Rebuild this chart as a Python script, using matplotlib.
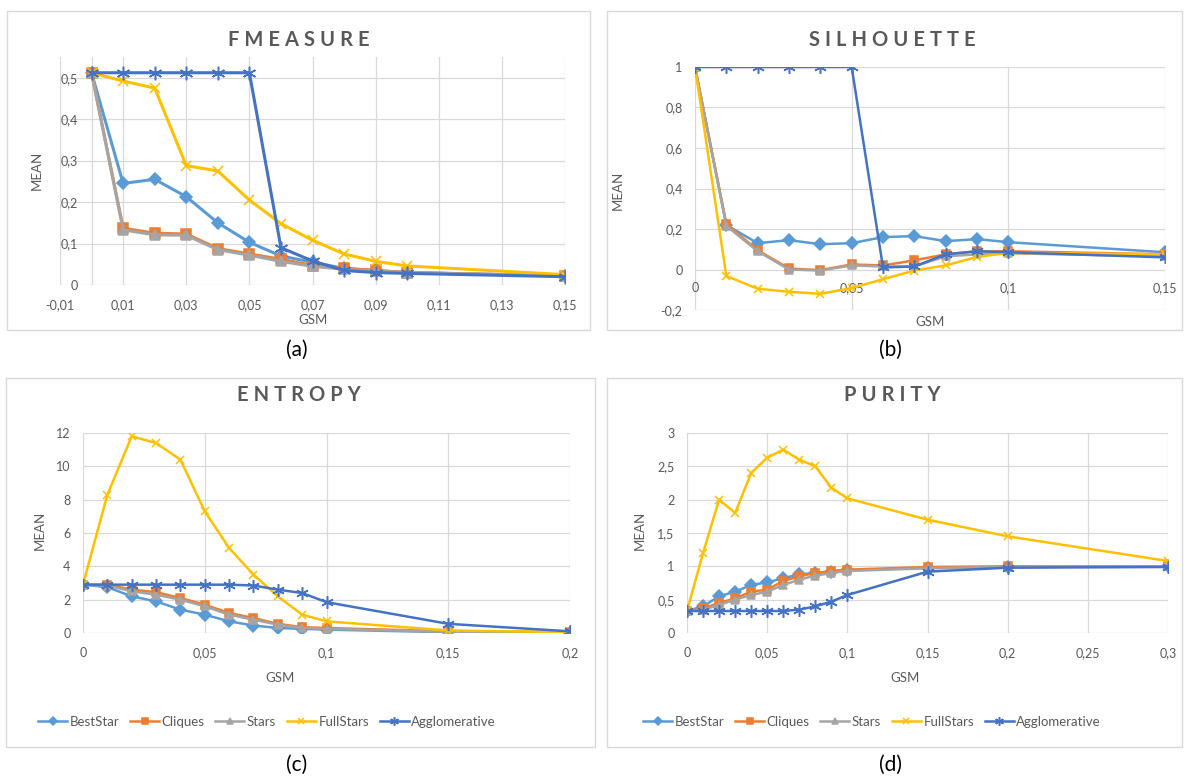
import matplotlib
matplotlib.use("Agg")
import matplotlib.pyplot as plt
from matplotlib.patches import Rectangle
from matplotlib.ticker import FuncFormatter, MultipleLocator

plt.rcParams['font.family'] = ['Lato', 'DejaVu Sans']

W, H = 1188, 778

# Series names and Excel-like colours
series = ["BestStar", "Cliques", "Stars", "FullStars", "Agglomerative"]
colors = ["#5B9BD5", "#ED7D31", "#A5A5A5", "#FFC000", "#4472C4"]
markers = ["D", "s", "^", "x", (6, 2, 0)]

# (a) FMEASURE
gsm_a = [0, 0.01, 0.02, 0.03, 0.04, 0.05, 0.06, 0.07, 0.08, 0.09, 0.1, 0.15]
fm_beststar = [0.512, 0.245, 0.255, 0.213, 0.15, 0.103, 0.07, 0.055, 0.04, 0.035, 0.03, 0.022]
fm_cliques = [0.512, 0.137, 0.125, 0.123, 0.088, 0.075, 0.062, 0.047, 0.04, 0.035, 0.03, 0.022]
fm_stars = [0.512, 0.133, 0.121, 0.12, 0.085, 0.072, 0.057, 0.045, 0.038, 0.033, 0.03, 0.022]
fm_fullstars = [0.512, 0.492, 0.475, 0.288, 0.275, 0.205, 0.148, 0.108, 0.075, 0.057, 0.046, 0.025]
fm_agglo = [0.512, 0.512, 0.512, 0.512, 0.512, 0.512, 0.09, 0.058, 0.035, 0.03, 0.028, 0.02]

# (b) SILHOUETTE
gsm_b = [0, 0.01, 0.02, 0.03, 0.04, 0.05, 0.06, 0.07, 0.08, 0.09, 0.1, 0.15]
si_beststar = [1.0, 0.22, 0.13, 0.145, 0.125, 0.13, 0.16, 0.165, 0.14, 0.15, 0.135, 0.085]
si_cliques = [1.0, 0.225, 0.095, 0.005, -0.003, 0.025, 0.02, 0.045, 0.075, 0.09, 0.09, 0.075]
si_stars = [1.0, 0.215, 0.09, 0.0, -0.005, 0.02, 0.015, 0.015, 0.065, 0.075, 0.08, 0.065]
si_fullstars = [1.0, -0.032, -0.095, -0.11, -0.12, -0.092, -0.048, -0.005, 0.02, 0.062, 0.082, 0.075]
si_agglo = [1.0, 1.0, 1.0, 1.0, 1.0, 1.0, 0.01, 0.015, 0.075, 0.09, 0.085, 0.06]

# (c) ENTROPY
gsm_c = [0, 0.01, 0.02, 0.03, 0.04, 0.05, 0.06, 0.07, 0.08, 0.09, 0.1, 0.15, 0.2]
en_beststar = [2.9, 2.75, 2.2, 1.9, 1.4, 1.1, 0.7, 0.45, 0.3, 0.25, 0.2, 0.05, 0.02]
en_cliques = [2.9, 2.9, 2.6, 2.45, 2.1, 1.7, 1.2, 0.9, 0.55, 0.35, 0.3, 0.1, 0.05]
en_stars = [2.9, 2.85, 2.5, 2.3, 2.0, 1.6, 1.1, 0.8, 0.5, 0.3, 0.25, 0.08, 0.03]
en_fullstars = [2.9, 8.3, 11.8, 11.4, 10.4, 7.3, 5.1, 3.5, 2.2, 1.1, 0.7, 0.15, 0.05]
en_agglo = [2.9, 2.9, 2.9, 2.9, 2.9, 2.9, 2.9, 2.85, 2.6, 2.4, 1.85, 0.55, 0.1]

# (d) PURITY
gsm_d = [0, 0.01, 0.02, 0.03, 0.04, 0.05, 0.06, 0.07, 0.08, 0.09, 0.1, 0.15, 0.2, 0.3]
pu_beststar = [0.33, 0.4, 0.55, 0.62, 0.72, 0.76, 0.82, 0.88, 0.9, 0.92, 0.94, 0.98, 0.99, 1.0]
pu_cliques = [0.33, 0.37, 0.45, 0.52, 0.62, 0.65, 0.78, 0.85, 0.9, 0.93, 0.95, 0.99, 1.0, 1.0]
pu_stars = [0.33, 0.35, 0.42, 0.5, 0.57, 0.62, 0.72, 0.8, 0.86, 0.9, 0.93, 0.97, 0.99, 1.0]
pu_fullstars = [0.33, 1.2, 2.0, 1.8, 2.4, 2.63, 2.75, 2.6, 2.5, 2.18, 2.02, 1.7, 1.45, 1.08]
pu_agglo = [0.33, 0.33, 0.33, 0.33, 0.33, 0.33, 0.33, 0.35, 0.4, 0.47, 0.57, 0.92, 0.98, 0.99]


def fx(x):
    return x / W


def fy(y):
    return 1 - y / H


def coma(v, pos=None):
    s = f"{round(v, 4):.2f}".rstrip('0').rstrip('.')
    if s in ("-0", ""):
        s = "0"
    return s.replace('.', ',')


def panel(rect, x, ys, xlim, ylim, xstep, ystep, lw, ms, xticks0=None):
    ax = fig.add_axes(rect)
    for y, name, c, m in zip(ys, series, colors, markers):
        size = ms * 1.5 if isinstance(m, tuple) else ms
        ax.plot(x, y, color=c, lw=lw, marker=m, ms=size, mfc=c, mec=c,
                mew=1.1, label=name, solid_joinstyle='round')
    ax.set_xlim(*xlim)
    ax.set_ylim(*ylim)
    ax.xaxis.set_major_locator(MultipleLocator(xstep))
    ax.yaxis.set_major_locator(MultipleLocator(ystep))
    if xticks0 is not None:
        ax.set_xticks(xticks0)
    ax.xaxis.set_major_formatter(FuncFormatter(coma))
    ax.yaxis.set_major_formatter(FuncFormatter(coma))
    ax.grid(True, color="#D9D9D9", lw=0.9)
    ax.set_axisbelow(True)
    for s in ax.spines.values():
        s.set_visible(False)
    ax.tick_params(length=0, labelsize=9, labelcolor="#595959")
    ax.tick_params(axis='y', pad=9)
    ax.tick_params(axis='x', pad=10)
    return ax


fig = plt.figure(figsize=(W / 100, H / 100), dpi=100)

# panel frames
for (x0, y0, x1, y1) in [(7, 11, 590, 330), (607, 11, 1182, 330),
                         (6, 378, 595, 747), (607, 378, 1182, 747)]:
    fig.patches.append(Rectangle((fx(x0), fy(y1)), fx(x1 - x0), (y1 - y0) / H,
                                 transform=fig.transFigure, fill=False,
                                 ec="#D9D9D9", lw=1))

# (a) - value axis crosses at GSM = 0, labels sit inside the plot area
ax_a = panel([fx(60), fy(285), fx(565 - 60), (285 - 57) / H], gsm_a,
             [fm_beststar, fm_cliques, fm_stars, fm_fullstars, fm_agglo],
             (-0.01, 0.15), (0, 0.55), 0.02, 0.1, 2.2, 6.5,
             xticks0=[-0.01, 0.01, 0.03, 0.05, 0.07, 0.09, 0.11, 0.13, 0.15])
ax_a.set_yticks([0, 0.1, 0.2, 0.3, 0.4, 0.5])
ax_a.tick_params(axis='y', pad=-13)
ax_a.axvline(0, color="#D9D9D9", lw=0.9, zorder=0)

# (b) - category axis crosses at MEAN = 0
ax_b = panel([fx(695), fy(310), fx(1165 - 695), (310 - 67) / H], gsm_b,
             [si_beststar, si_cliques, si_stars, si_fullstars, si_agglo],
             (0, 0.15), (-0.2, 1.0), 0.05, 0.2, 1.8, 6)
ax_b.spines['bottom'].set_position(('data', 0))
ax_b.tick_params(axis='x', pad=9)

# (c)
ax_c = panel([fx(83), fy(633), fx(570 - 83), 200 / H], gsm_c,
             [en_beststar, en_cliques, en_stars, en_fullstars, en_agglo],
             (0, 0.2), (0, 12), 0.05, 2, 1.8, 6)

# (d)
ax_d = panel([fx(687), fy(633), fx(1168 - 687), 200 / H], gsm_d,
             [pu_beststar, pu_cliques, pu_stars, pu_fullstars, pu_agglo],
             (0, 0.3), (0, 3), 0.05, 0.5, 1.8, 6)

# titles
spaced = lambda t: "\u2005".join(t)
for t, x, y in [("FMEASURE", 299, 40), ("SILHOUETTE", 892, 40),
                ("ENTROPY", 299, 395), ("PURITY", 892, 395)]:
    fig.text(fx(x), fy(y), spaced(t), ha='center', va='center',
             fontsize=14.5, fontweight='bold', color="#595959")

# axis labels
for x, y in [(37, 170), (618, 190), (40, 530), (640, 530)]:
    fig.text(fx(x), fy(y), "MEAN", rotation=90, ha='center', va='center',
             fontsize=9.5, color="#595959")
for x, y in [(313, 320), (930, 322), (280, 678), (905, 678)]:
    fig.text(fx(x), fy(y), "GSM", ha='center', va='center',
             fontsize=9.5, color="#595959")

# legends
handles, labels = ax_c.get_legend_handles_labels()
for cx in (267, 872):
    fig.legend(handles, labels, loc='center', bbox_to_anchor=(fx(cx), fy(722)),
               ncol=5, frameon=False, fontsize=9.5, handlelength=2.2,
               columnspacing=0.8, handletextpad=0.2, markerscale=0.7,
               labelcolor="#595959")

# subfigure labels
for t, x, y in [("(a)", 297, 350), ("(b)", 890, 350), ("(c)", 297, 765), ("(d)", 890, 765)]:
    fig.text(fx(x), fy(y), t, ha='center', va='center', fontsize=15, color="black")

fig.savefig("out.png", dpi=100)
